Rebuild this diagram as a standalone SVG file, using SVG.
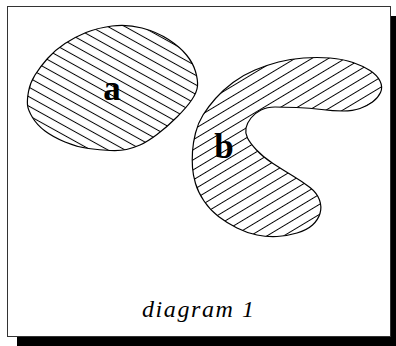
<svg xmlns="http://www.w3.org/2000/svg" width="396" height="346" viewBox="0 0 396 346">
<style>
.blob{stroke:#000;stroke-width:1.2;}
.lbl{font-family:"Liberation Serif","DejaVu Serif",serif;font-weight:bold;font-size:35px;text-anchor:middle;fill:#000;}
.cap{font-family:"Liberation Serif","DejaVu Serif",serif;font-style:italic;font-size:24px;text-anchor:middle;fill:#000;}
</style>
<defs>
<pattern id="hatchA" patternUnits="userSpaceOnUse" width="10" height="8.3" patternTransform="rotate(29)">
<rect width="10" height="8.3" fill="#fff"/>
<line x1="0" y1="4.15" x2="10" y2="4.15" stroke="#000" stroke-width="1"/>
</pattern>
<pattern id="hatchB" patternUnits="userSpaceOnUse" width="10" height="8.6" patternTransform="rotate(-31)">
<rect width="10" height="8.6" fill="#fff"/>
<line x1="0" y1="4.3" x2="10" y2="4.3" stroke="#000" stroke-width="1"/>
</pattern>
</defs>
<rect x="17" y="16" width="380" height="330" fill="#000"/>
<rect x="7.5" y="6.5" width="383" height="330" fill="#fff" stroke="#333" stroke-width="1"/>
<g id="a">
<path class="blob" fill="url(#hatchA)" d="M27.5,105 Q27,100 28.5,91.5 Q30,83 35,75 Q40,67 47.5,58.5 Q55,50 65,43.5 Q75,37 86,32.5 Q97,28 112,26 Q127,24 142,28 Q157,32 168.5,39.5 Q180,47 186.5,55 Q193,63 195.5,71.5 Q198,80 197.5,86 Q197,92 192,99.5 Q187,107 177,117 Q167,127 157,134.5 Q147,142 140,145 Q133,148 126.5,149.5 Q120,151 110,150.5 Q100,150 88.5,148.5 Q77,147 65,142 Q53,137 45,131 Q37,125 32.5,117.5 Q28,110 27.5,105 Z"/>
<text class="lbl" x="112" y="100">a</text>
</g>
<g id="b">
<path class="blob" fill="url(#hatchB)" d="M192.5,167.5 Q192,160 192.5,151.5 Q193,143 195.5,133 Q198,123 203,115 Q208,107 215.5,98.5 Q223,90 233,82.5 Q243,75 255,70 Q267,65 278.5,62 Q290,59 303.5,58 Q317,57 330,58 Q343,59 353,62.5 Q363,66 370,70.5 Q377,75 380,81 Q383,87 380.5,92.5 Q378,98 372.5,102 Q367,106 360,108.5 Q353,111 343,111 Q333,111 321.5,109.5 Q310,108 296.5,107.5 Q283,107 275,107 Q267,107 261,110 Q255,113 251,118 Q247,123 246,128 Q245,133 247.5,138 Q250,143 256.5,150 Q263,157 273,163.5 Q283,170 293,176 Q303,182 310,187.5 Q317,193 319.5,200 Q322,207 320,213.5 Q318,220 312.5,225 Q307,230 297,233 Q287,236 277,236.5 Q267,237 257,235 Q247,233 237,228 Q227,223 218.5,216.5 Q210,210 204,201 Q198,192 195.5,183.5 Q193,175 192.5,167.5 Z"/>
<text class="lbl" x="224" y="158">b</text>
</g>
<g id="caption">
<text class="cap" x="198" y="317" textLength="112" lengthAdjust="spacing">diagram 1</text>
</g>
<g id="connectors"></g>
</svg>
